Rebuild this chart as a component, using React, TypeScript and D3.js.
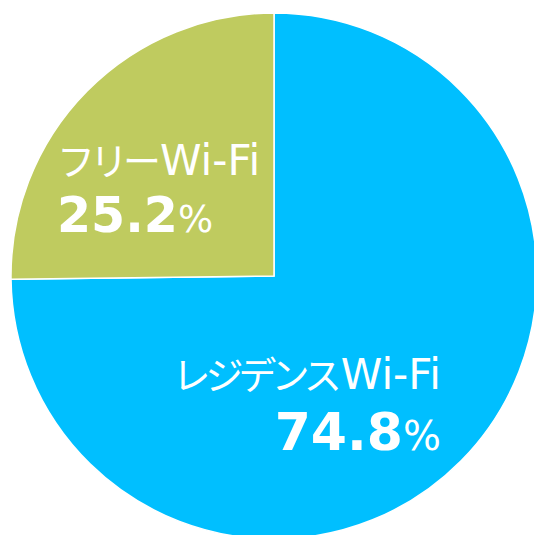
import React from "react";
import * as d3 from "d3";

const categories = ["レジデンスWi-Fi", "フリーWi-Fi"];
const kanaParts = ["レジデンス", "フリー"];
const latinParts = ["Wi-Fi", "Wi-Fi"];
const values = [74.8, 25.2];
const valueLabels = ["74.8", "25.2"];
const colors = ["#00BFFF", "#BFCB5F"];

export default function App() {
  const W = 534, H = 535;
  const cx = 274, cy = 276, r = 263;
  const pie = d3.pie<number>().sort(null).value((d) => d)(values);
  const arc = d3.arc<d3.PieArcDatum<number>>().innerRadius(0).outerRadius(r);
  const kanaFont = "'Noto Sans CJK JP', sans-serif";
  const latinFont = "'DejaVu Sans', Verdana, sans-serif";
  const labelPos = [
    { x: 441, y1: 389, y2: 450, anchor: "end", num: 52, pct: 40 },
    { x: 57, y1: 175, y2: 232, anchor: "start", num: 49, pct: 37 },
  ];
  return (
    <svg width={W} height={H} style={{ position: "absolute", left: 0, top: 0 }}>
      <g transform={`translate(${cx},${cy})`}>
        {pie.map((p, i) => (
          <path key={i} d={arc(p) || ""} fill={colors[i]} stroke="#fff" strokeWidth={1.5} />
        ))}
      </g>
      {categories.map((c, i) => {
        const lp = labelPos[i];
        return (
          <g key={c} fill="#fff">
            <text x={lp.x} y={lp.y1} textAnchor={lp.anchor as any}>
              <tspan fontFamily={kanaFont} fontSize={38} fontWeight={400} letterSpacing={-5}>{kanaParts[i]}</tspan>
              <tspan fontFamily={latinFont} fontSize={42} dx={4}>{latinParts[i]}</tspan>
            </text>
            <text x={lp.x} y={lp.y2} textAnchor={lp.anchor as any} fontFamily={latinFont}>
              <tspan fontWeight="bold" fontSize={lp.num}>{valueLabels[i]}</tspan>
              <tspan fontSize={lp.pct}>%</tspan>
            </text>
          </g>
        );
      })}
    </svg>
  );
}
